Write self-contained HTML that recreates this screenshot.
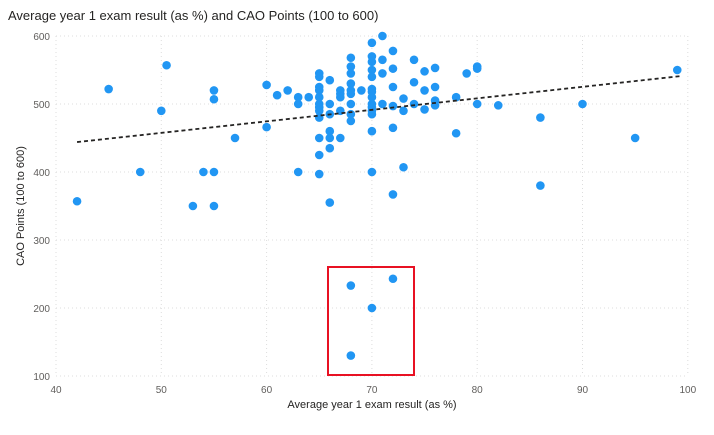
<!DOCTYPE html>
<html><head><meta charset="utf-8"><style>
body{margin:0;background:#fff;font-family:"Liberation Sans",sans-serif}
</style></head><body>
<svg width="714" height="430" id="c">
<text x="8" y="20" font-size="13" fill="#252423">Average year 1 exam result (as %) and CAO Points (100 to 600)</text>
<text x="372" y="408" font-size="11" fill="#252423" text-anchor="middle">Average year 1 exam result (as %)</text>
<text transform="translate(24,206) rotate(-90)" font-size="11" fill="#252423" text-anchor="middle">CAO Points (100 to 600)</text>
<g id="grid"></g><g id="pts"></g>
<rect x="328" y="267" width="86" height="108" fill="none" stroke="#e81123" stroke-width="2"/>
</svg>
<script>
const xTicks=[40,50,60,70,80,90,100];
const yTicks=[100,200,300,400,500,600];
const xVals=[42,45,48,50,50.5,53,54,55,55,55,55,57,60,60,61,62,63,63,63,64,65,65,65,65,65,65,65,65,65,65,65,65,66,66,66,66,66,66,66,67,67,67,67,67,68,68,68,68,68,68,68,68,68,69,70,70,70,70,70,70,70,70,70,70,70,70,70,70,71,71,71,71,72,72,72,72,72,72,73,73,73,74,74,74,75,75,75,76,76,76,76,78,78,79,80,80,80,82,86,86,90,95,99,68,68,70,72];
const yVals=[357,522,400,490,557,350,400,520,507,400,350,450,528,466,513,520,500,510,400,510,545,540,525,520,510,500,495,490,480,450,425,397,535,500,485,460,450,435,355,520,515,510,450,490,568,555,545,530,520,515,500,485,475,520,590,570,562,550,540,522,518,510,500,495,490,485,460,400,600,565,545,500,578,552,525,497,465,367,508,490,407,565,532,500,548,520,492,553,525,505,498,510,457,545,555,552,500,498,480,380,500,450,550,233,130,200,243];
const trendX=[42,99.3], trendY=[444,541];
const X=v=>56+(v-40)*10.53, Y=v=>36+(600-v)*0.68;
const NS='http://www.w3.org/2000/svg';
const g=document.getElementById('grid'), p=document.getElementById('pts');
xTicks.forEach(t=>{
 const l=document.createElementNS(NS,'line');
 l.setAttribute('x1',X(t));l.setAttribute('x2',X(t));l.setAttribute('y1',Y(600));l.setAttribute('y2',Y(100));
 l.setAttribute('stroke','#ddd');l.setAttribute('stroke-dasharray','1 3');
 
 
 g.appendChild(l);
 const s=document.createElementNS(NS,'text');
 s.setAttribute('x',X(t));s.setAttribute('y',393);s.setAttribute('font-size','10');s.setAttribute('fill','#605e5c');s.setAttribute('text-anchor','middle');
 s.textContent=t;
 
 
 g.appendChild(s);
});
yTicks.forEach(t=>{
 const l=document.createElementNS(NS,'line');
 l.setAttribute('x1',X(40));l.setAttribute('x2',X(100));l.setAttribute('y1',Y(t));l.setAttribute('y2',Y(t));
 l.setAttribute('stroke','#ddd');l.setAttribute('stroke-dasharray','1 3');
 
 
 g.appendChild(l);
 const s=document.createElementNS(NS,'text');
 s.setAttribute('x',50);s.setAttribute('y',Y(t)+4);s.setAttribute('font-size','10');s.setAttribute('fill','#605e5c');s.setAttribute('text-anchor','end');
 s.textContent=t;
 
 
 g.appendChild(s);
});
xVals.forEach((v,i)=>{
 const c=document.createElementNS(NS,'circle');
 c.setAttribute('cx',X(v));c.setAttribute('cy',Y(yVals[i]));c.setAttribute('r',4.3);c.setAttribute('fill','#2196f3');
 
 
 p.appendChild(c);
});
const tl=document.createElementNS(NS,'line');
tl.setAttribute('x1',X(trendX[0]));tl.setAttribute('y1',Y(trendY[0]));tl.setAttribute('x2',X(trendX[1]));tl.setAttribute('y2',Y(trendY[1]));
tl.setAttribute('stroke','#252423');tl.setAttribute('stroke-width','1.8');tl.setAttribute('stroke-dasharray','4 3');


p.appendChild(tl);
</script>
</body></html>
